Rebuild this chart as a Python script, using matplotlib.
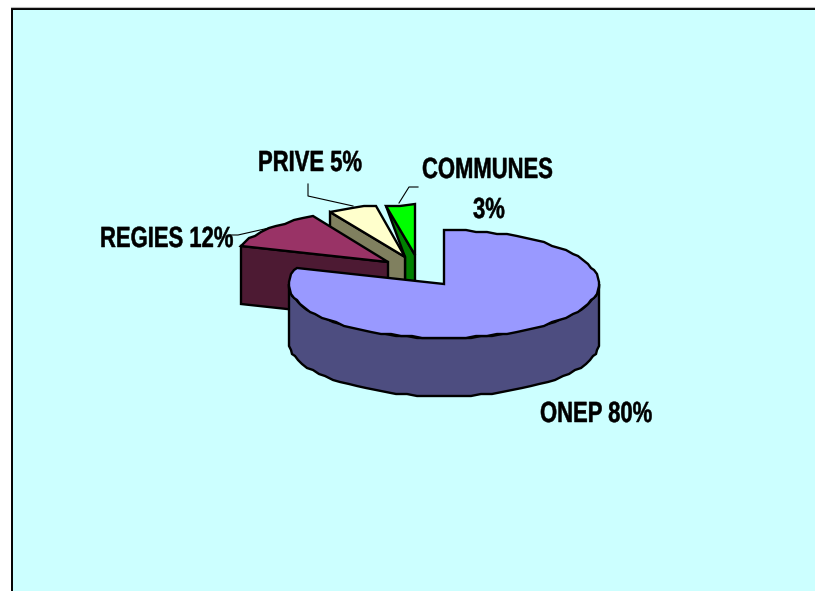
import numpy as np
import matplotlib
matplotlib.use("Agg")
import matplotlib.pyplot as plt
import matplotlib.patheffects as pe
from matplotlib.patches import Polygon, Rectangle
from matplotlib.transforms import Affine2D

labels = ["ONEP", "REGIES", "PRIVE", "COMMUNES"]
values = [80, 12, 5, 3]
top_colors = ["#9999ff", "#993366", "#ffffcc", "#00ff00"]
side_colors = ["#4d4d80", "#4d1a33", "#80805f", "#008000"]

# pie geometry, in pixels
apexes = [(444, 284), (388, 262), (405, 257), (415, 255)]
rx = 155
ry = [54, 52, 52, 50]
depth = 58
lw = 1.7

plt.rcParams["font.family"] = ["Liberation Sans"]
plt.rcParams["font.weight"] = "bold"


class Narrow(pe.AbstractPathEffect):
    # squeezes glyphs horizontally and thickens them, no condensed bold installed
    def __init__(self, sx, stroke):
        super().__init__()
        self.sx = sx
        self.stroke = stroke

    def draw_path(self, renderer, gc, tpath, affine, rgbFace=None):
        gc0 = renderer.new_gc()
        gc0.copy_properties(gc)
        gc0.set_linewidth(self.stroke)
        gc0.set_foreground("k")
        renderer.draw_path(gc0, tpath, Affine2D().scale(self.sx, 1) + affine, rgbFace)
        gc0.restore()


fig = plt.figure(figsize=(8.15, 5.91), dpi=100)
ax = fig.add_axes([0, 0, 1, 1])
ax.set_xlim(0, 815)
ax.set_ylim(591, 0)
ax.axis("off")

ax.add_patch(Rectangle((11.5, 8.5), 810, 590, fc="#ccffff", ec="k", lw=1.4))
ax.plot([11, 815], [7, 7], color="#bbbbbb", lw=0.8)


def rim(i, a0, a1, step=4):
    # clockwise from twelve o'clock, coarse segments like an old office chart
    n = max(int(abs(a1 - a0) / step), 1) + 1
    t = np.radians(np.linspace(a0, a1, n))
    x = apexes[i][0] + rx * np.sin(t)
    y = apexes[i][1] - ry[i] * np.cos(t)
    return np.column_stack([np.round(x), np.round(y / 2) * 2])


def poly(pts, fc):
    ax.add_patch(Polygon(pts, closed=True, fc=fc, ec="k", lw=lw, joinstyle="miter"))


bounds = np.cumsum([0] + values) * 3.6

# back to front: COMMUNES, PRIVE, REGIES, ONEP
for i in [3, 2, 1]:
    a0, a1 = bounds[i], bounds[i + 1]
    ap = apexes[i]
    corner = rim(i, a0, a0)[0]
    if i == 3:
        # the green cut face narrows towards the next slice's apex
        nx, ny = apexes[2]
        poly([corner, ap, (ap[0], ap[1] + depth), (nx, ny + depth), (nx, ny)], side_colors[i])
    else:
        poly([corner, ap, (ap[0], ap[1] + depth), (corner[0], corner[1] + depth)], side_colors[i])
    poly(np.vstack([[ap], rim(i, a0, a1)]), top_colors[i])

ap = apexes[0]
lower = rim(0, 90, 270)
poly(np.vstack([lower, (lower + [0, depth])[::-1]]), side_colors[0])
poly(np.vstack([[ap], rim(0, bounds[0], bounds[1])]), top_colors[0])

# leader lines
ax.plot([230, 238, 269], [235, 235, 228], color="k", lw=0.8)
ax.plot([308, 308, 353], [184, 196, 206], color="k", lw=0.8)
ax.plot([418, 409, 399], [187, 187, 203], color="k", lw=0.8)

fs = 21
squeeze = [Narrow(0.755, 0.35)]
texts = [
    (540, 422, f"{labels[0]} {values[0]}%"),
    (100, 247, f"{labels[1]} {values[1]}%"),
    (258, 171, f"{labels[2]} {values[2]}%"),
    (422, 178, labels[3]),
    (473, 218, f"{values[3]}%"),
]
for x, y, s in texts:
    ax.text(x, y, s, ha="left", va="baseline", fontsize=fs, path_effects=squeeze)

fig.savefig("out.png", dpi=100)
